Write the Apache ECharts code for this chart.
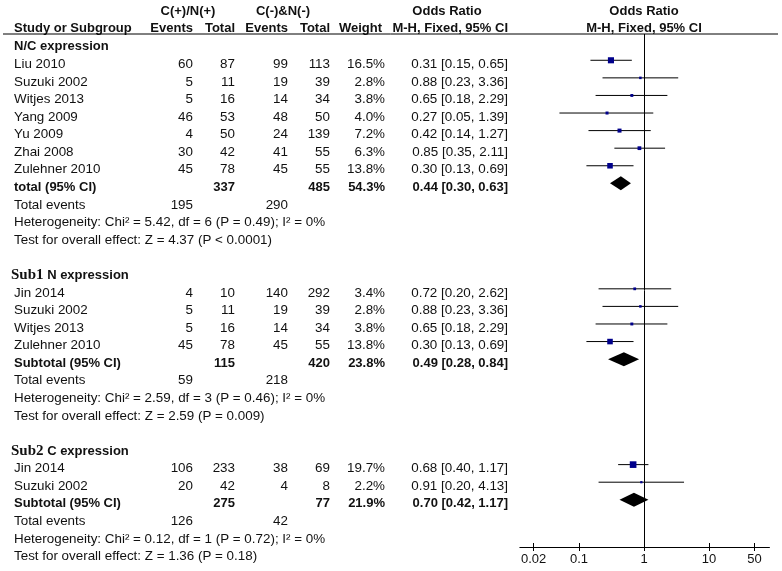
<!DOCTYPE html>
<html>
<head>
<meta charset="utf-8">
<script src="https://cdn.jsdelivr.net/npm/echarts@6/dist/echarts.min.js"></script>
<style>
html,body{margin:0;padding:0;background:#fff;}
#chart{width:782px;height:571px;}
</style>
</head>
<body>
<div id="chart"></div>
<script>
// ---------- data ----------
const studyNames = ["Liu 2010","Suzuki 2002","Witjes 2013","Yang 2009","Yu 2009","Zhai 2008","Zulehner 2010","Jin 2014","Suzuki 2002","Witjes 2013","Zulehner 2010","Jin 2014","Suzuki 2002"];
const studyGroup = [0,0,0,0,0,0,0,1,1,1,1,2,2];
const eventsPos = [60,5,5,46,4,30,45,4,5,5,45,106,20];
const totalPos  = [87,11,16,53,50,42,78,10,11,16,78,233,42];
const eventsNeg = [99,19,14,48,24,41,45,140,19,14,45,38,4];
const totalNeg  = [113,39,34,50,139,55,55,292,39,34,55,69,8];
const weights   = [16.5,2.8,3.8,4.0,7.2,6.3,13.8,3.4,2.8,3.8,13.8,19.7,2.2];
const orValues  = [0.31,0.88,0.65,0.27,0.42,0.85,0.30,0.72,0.88,0.65,0.30,0.68,0.91];
const ciLow     = [0.15,0.23,0.18,0.05,0.14,0.35,0.13,0.20,0.23,0.18,0.13,0.40,0.20];
const ciHigh    = [0.65,3.36,2.29,1.39,1.27,2.11,0.69,2.62,3.36,2.29,0.69,1.17,4.13];

const groupPrefix = ["", "Sub1", "Sub2"];
const groupNames = ["N/C expression", "N expression", "C expression"];
const groupTotalLabel = ["total (95% CI)", "Subtotal (95% CI)", "Subtotal (95% CI)"];
const groupTotalPos = [337,115,275];
const groupTotalNeg = [485,420,77];
const groupWeight = [54.3,23.8,21.9];
const groupOR = [0.44,0.49,0.70];
const groupLow = [0.30,0.28,0.42];
const groupHigh = [0.63,0.84,1.17];
const groupEventsPos = [195,59,126];
const groupEventsNeg = [290,218,42];
const groupHet = [
  "Heterogeneity: Chi\u00B2 = 5.42, df = 6 (P = 0.49); I\u00B2 = 0%",
  "Heterogeneity: Chi\u00B2 = 2.59, df = 3 (P = 0.46); I\u00B2 = 0%",
  "Heterogeneity: Chi\u00B2 = 0.12, df = 1 (P = 0.72); I\u00B2 = 0%"
];
const groupTest = [
  "Test for overall effect: Z = 4.37 (P < 0.0001)",
  "Test for overall effect: Z = 2.59 (P = 0.009)",
  "Test for overall effect: Z = 1.36 (P = 0.18)"
];
const tickValues = [0.02, 0.1, 1, 10, 50];
const tickLabels = ["0.02", "0.1", "1", "10", "50"];

// ---------- layout ----------
const W = 782, H = 571;
const rowTop = 46.7, rowH = 17.58;      // text row centres
const markTop = 42.7;                   // marker row centres
const plotTop = 34, plotBottom = 547;
const colName = 14, colEv1 = 193, colTot1 = 235, colEv2 = 288, colTot2 = 330, colW = 385, colOR = 508, colPlot = 644;
const FONT = "Liberation Sans, Arial, sans-serif";
const FS = 13.4, FSH = 13;

const textItems = [];
const studyRows = [];
const totalRows = [];
function T(x, row, text, align, bold, rich, size) { textItems.push({x, row, text, align, bold, rich, size: size || FS}); }

// header
T(188, -1.98, "C(+)/N(+)", "center", true, false, FSH);
T(283, -1.98, "C(-)&N(-)", "center", true, false, FSH);
T(447, -1.98, "Odds Ratio", "center", true, false, FSH);
T(colPlot, -1.98, "Odds Ratio", "center", true, false, FSH);
T(colName, -1.04, "Study or Subgroup", "left", true, false, FSH);
T(colEv1, -1.04, "Events", "right", true, false, FSH);
T(colTot1, -1.04, "Total", "right", true, false, FSH);
T(colEv2, -1.04, "Events", "right", true, false, FSH);
T(colTot2, -1.04, "Total", "right", true, false, FSH);
T(382, -1.04, "Weight", "right", true, false, FSH);
T(colOR, -1.04, "M-H, Fixed, 95% CI", "right", true, false, FSH);
T(colPlot, -1.04, "M-H, Fixed, 95% CI", "center", true, false, FSH);

let r = 0;
for (let g = 0; g < groupNames.length; g++) {
  if (groupPrefix[g]) {
    T(11, r, "{a|" + groupPrefix[g] + "}{b| " + groupNames[g] + "}", "left", true, true, FSH);
  } else {
    T(colName, r, groupNames[g], "left", true, false, FSH);
  }
  r++;
  for (let i = 0; i < studyNames.length; i++) {
    if (studyGroup[i] !== g) continue;
    T(colName, r, studyNames[i], "left", false);
    T(colEv1, r, String(eventsPos[i]), "right", false);
    T(colTot1, r, String(totalPos[i]), "right", false);
    T(colEv2, r, String(eventsNeg[i]), "right", false);
    T(colTot2, r, String(totalNeg[i]), "right", false);
    T(colW, r, weights[i].toFixed(1) + "%", "right", false);
    T(colOR, r, orValues[i].toFixed(2) + " [" + ciLow[i].toFixed(2) + ", " + ciHigh[i].toFixed(2) + "]", "right", false);
    studyRows.push([Math.log10(orValues[i]), r, Math.log10(ciLow[i]), Math.log10(ciHigh[i]), weights[i]]);
    r++;
  }
  T(colName, r, groupTotalLabel[g], "left", true, false, FSH);
  T(colTot1, r, String(groupTotalPos[g]), "right", true, false, FSH);
  T(colTot2, r, String(groupTotalNeg[g]), "right", true, false, FSH);
  T(colW, r, groupWeight[g].toFixed(1) + "%", "right", true, false, FSH);
  T(colOR, r, groupOR[g].toFixed(2) + " [" + groupLow[g].toFixed(2) + ", " + groupHigh[g].toFixed(2) + "]", "right", true, false, FSH);
  totalRows.push([Math.log10(groupOR[g]), r, Math.log10(groupLow[g]), Math.log10(groupHigh[g])]);
  r++;
  T(colName, r, "Total events", "left", false);
  T(colEv1, r, String(groupEventsPos[g]), "right", false);
  T(colEv2, r, String(groupEventsNeg[g]), "right", false);
  r++;
  T(colName, r, groupHet[g], "left", false);
  r++;
  T(colName, r, groupTest[g], "left", false);
  r++;
  r++; // blank
}

// axis ranges
const textMin = -rowTop / rowH, textMax = (H - rowTop) / rowH;
const plotMin = (plotTop - markTop) / rowH, plotMax = (plotBottom - markTop) / rowH;
const xMin = -1.91, xMax = 1.93, decade = 65;
const plotLeft = colPlot + xMin * decade, plotRight = W - (colPlot + xMax * decade);

const chart = echarts.init(document.getElementById('chart'), null, {renderer: 'canvas'});
const logTicks = tickValues.map(v => Math.log10(v));
function tickFmt(v) {
  let best = 0;
  for (let i = 0; i < logTicks.length; i++) if (Math.abs(logTicks[i] - v) < Math.abs(logTicks[best] - v)) best = i;
  return tickLabels[best];
}
const plotGrid = {left: plotLeft, right: plotRight, top: plotTop, bottom: H - plotBottom};

chart.setOption({
  animation: false,
  backgroundColor: '#fff',
  grid: [
    plotGrid,
    {left: 0, right: 0, top: 0, bottom: 0},
    Object.assign({}, plotGrid)
  ],
  xAxis: [
    {gridIndex: 0, type: 'value', min: xMin, max: xMax, position: 'bottom',
     axisLine: {show: true, onZero: false, lineStyle: {color: '#000', width: 1}},
     axisTick: {show: true, length: 4, customValues: logTicks, lineStyle: {color: '#000'}},
     axisLabel: {show: true, customValues: logTicks, formatter: tickFmt, margin: 6, color: '#111', fontSize: 13, fontFamily: FONT},
     splitLine: {show: false}},
    {gridIndex: 1, type: 'value', min: 0, max: W, show: false},
    {gridIndex: 2, type: 'value', min: xMin, max: xMax, position: 'bottom',
     axisLine: {show: false, onZero: false},
     axisTick: {show: true, inside: true, length: 4, customValues: logTicks, lineStyle: {color: '#000'}},
     axisLabel: {show: false}, splitLine: {show: false}}
  ],
  yAxis: [
    {gridIndex: 0, type: 'value', inverse: true, min: plotMin, max: plotMax, show: false},
    {gridIndex: 1, type: 'value', inverse: true, min: textMin, max: textMax, show: false},
    {gridIndex: 2, type: 'value', inverse: true, min: plotMin, max: plotMax, show: false}
  ],
  graphic: [
    {type: 'line', shape: {x1: 3, y1: plotTop, x2: 778, y2: plotTop}, style: {stroke: '#000', lineWidth: 1}, z: 10}
  ],
  series: [
    {
      type: 'custom', xAxisIndex: 1, yAxisIndex: 1, silent: true, clip: false,
      data: textItems.map(t => [t.x, t.row]),
      renderItem: function (params, api) {
        const t = textItems[params.dataIndex];
        const p = api.coord([t.x, t.row]);
        const style = {
          text: t.text, align: t.align, verticalAlign: 'middle',
          fill: '#111', fontSize: t.size, fontFamily: FONT, fontWeight: t.bold ? 'bold' : 'normal'
        };
        if (t.rich) {
          style.rich = {
            a: {fontFamily: 'Liberation Serif, DejaVu Serif, serif', fontWeight: 'bold', fontSize: 15, fill: '#111'},
            b: {fontFamily: FONT, fontWeight: 'bold', fontSize: FSH, fill: '#111'}
          };
        }
        return {type: 'text', x: p[0], y: p[1], style: style};
      }
    },
    {
      type: 'custom', xAxisIndex: 0, yAxisIndex: 0, silent: true, clip: false,
      data: studyRows,
      renderItem: function (params, api) {
        const c = api.coord([api.value(0), api.value(1)]);
        const lo = api.coord([api.value(2), api.value(1)]);
        const hi = api.coord([api.value(3), api.value(1)]);
        const s = Math.sqrt(api.value(4)) * 1.5;
        return {type: 'group', children: [
          {type: 'line', shape: {x1: lo[0], y1: lo[1], x2: hi[0], y2: hi[1]}, style: {stroke: '#000', lineWidth: 1}},
          {type: 'rect', shape: {x: c[0] - s / 2, y: c[1] - s / 2, width: s, height: s}, style: {fill: '#00008B'}}
        ]};
      }
    },
    {
      type: 'custom', xAxisIndex: 0, yAxisIndex: 0, silent: true, clip: false,
      data: totalRows,
      renderItem: function (params, api) {
        const c = api.coord([api.value(0), api.value(1)]);
        const lo = api.coord([api.value(2), api.value(1)]);
        const hi = api.coord([api.value(3), api.value(1)]);
        const h = 7;
        return {type: 'polygon', shape: {points: [[lo[0], c[1]], [c[0], c[1] - h], [hi[0], c[1]], [c[0], c[1] + h]]}, style: {fill: '#000'}};
      },
      markLine: {
        silent: true, symbol: 'none', label: {show: false},
        lineStyle: {color: '#000', width: 1, type: 'solid'},
        data: [{xAxis: 0}]
      }
    }
  ]
});
</script>
</body>
</html>
